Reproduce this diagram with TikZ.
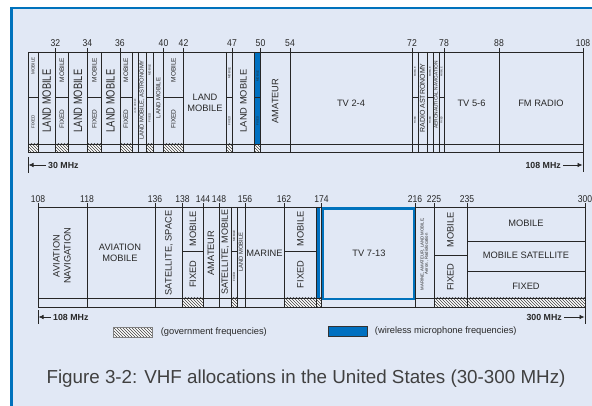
\documentclass[tikz,border=0pt]{standalone}
\usepackage{fontspec}
\setmainfont{Liberation Sans}
\usepackage{graphicx}
\usetikzlibrary{arrows.meta,patterns,positioning}
\definecolor{panelbg}{RGB}{225,232,245}
\definecolor{frameblue}{RGB}{0,114,188}
\definecolor{micblue}{RGB}{0,112,192}
\definecolor{labgray}{RGB}{40,40,40}
\definecolor{capgray}{RGB}{64,64,64}
\newcommand{\tall}[1]{\scalebox{1}[1.3]{#1}}
\newcommand{\digits}[1]{\scalebox{1}[1.15]{#1}}
\tikzset{
  band/.style={draw=black!85, line width=0.65pt},
  gov/.style={preaction={fill=white}, pattern=north west lines, pattern color=black!75},
  govkey/.style={gov, draw=black!50, line width=0.3pt, minimum width=39pt, minimum height=10pt, inner sep=0pt},
  mickey/.style={fill=micblue, draw=black!80, line width=0.5pt, minimum width=39pt, minimum height=10pt, inner sep=0pt},
  lab/.style={font=\fontsize{9.3}{11}\selectfont, text=labgray, align=center, inner sep=0pt},
  vlab/.style={lab, rotate=90},
  fs/.style={font=\fontsize{#1}{#1}\selectfont},
  num/.style={font=\fontsize{8.6}{10}\selectfont, text=labgray, inner sep=0pt, anchor=south},
  mhz/.style={font=\bfseries\fontsize{8.8}{9}\selectfont, text=labgray, inner xsep=2pt, inner ysep=0pt},
  ar/.style={-{Latex[length=5pt,width=4.5pt]}, line width=0.7pt, draw=labgray},
}

\begin{document}
\begin{tikzpicture}[x=1pt, y=-1pt]
\useasboundingbox (0,0) rectangle (592,406);

% ---------- panel ----------
\fill[white] (0,0) rectangle (592,406);
\fill[panelbg] (10,7) rectangle (592,406);
\draw[frameblue, line width=2pt] (10,7.8) -- (592,7.8);
\draw[frameblue, line width=3pt] (11.3,7) -- (11.3,406);

% ================= 30 - 108 MHz =================
\foreach \a/\b in {28/38, 55.5/68, 87.5/101, 120/132, 146/153, 163.5/183.5, 226.5/232, 254.5/260.5}
  \fill[gov] (\a,144) rectangle (\b,152);
\fill[micblue] (254.5,52) rectangle (260.5,144);

\draw[band] (28,52) -- (583,52) (28,144) -- (583,144) (28,152) -- (583,152);
\foreach \x in {28,38,68,101,132,138,146,153,226.5,254.5,418,427,433,439}
  \draw[band] (\x,52) -- (\x,152);
\foreach \x/\f in {55.5/32, 87.5/34, 120/36, 163.5/40, 183.5/42, 232/47, 260.5/50, 290/54, 412/72, 444/78, 499/88, 583/108}{
  \draw[band] (\x,48) -- (\x,152);
  \node[num] (t\f) at (\x,47) {\digits{\f}};
}
\foreach \a/\b in {28/38, 55.5/68, 87.5/101, 120/132, 146/153, 163.5/183.5, 226.5/232, 254.5/260.5, 412/418, 427/433, 439/444}
  \draw[band] (\a,97) -- (\b,97);

\node[vlab, fs=4.5] (m1) at (33,66) {MOBILE};
\node[vlab, fs=4.5] (x1) at (33,122) {FIXED};
\node[vlab] (lm1) at (46.7,101) {\tall{LAND MOBILE}};
\node[vlab, fs=6.5] (m2) at (62,70) {MOBILE};
\node[vlab, fs=6.5] (x2) at (62,119) {FIXED};
\node[vlab] (lm2) at (78,101) {\tall{LAND MOBILE}};
\node[vlab, fs=6.5] (m3) at (94.3,70) {MOBILE};
\node[vlab, fs=6.5] (x3) at (94.3,119) {FIXED};
\node[vlab] (lm3) at (110.5,101) {\tall{LAND MOBILE}};
\node[vlab, fs=6.5] (m4) at (126,70) {MOBILE};
\node[vlab, fs=6.5] (x4) at (126,119) {FIXED};
\node[vlab, fs=2.2] (lm4) at (135,106) {LAND MOBILE};
\node[vlab, fs=5.8] (lma) at (142,100) {LAND MOBILE, ASTRONOMY};
\node[vlab, fs=3] (m5) at (149.5,70) {MOBILE};
\node[vlab, fs=3] (x5) at (149.5,118) {FIXED};
\node[vlab, fs=6] (lm5) at (158.3,98) {LAND MOBILE};
\node[vlab, fs=6.5] (m6) at (173.5,70) {MOBILE};
\node[vlab, fs=6.5] (x6) at (173.5,119) {FIXED};
\node[lab] (lm6) at (205,102.5) {LAND\\MOBILE};
\node[vlab, fs=3] (m7) at (229.3,73) {MOBILE};
\node[vlab, fs=3] (x7) at (229.3,121) {FIXED};
\node[vlab] (lm7) at (243.3,101) {LAND MOBILE};
\node[vlab, fs=3] (m8) at (257.5,76) {MOBILE};
\node[vlab, fs=3] (x8) at (257.5,121) {FIXED};
\node[vlab] (am1) at (275.3,101) {AMATEUR};
\node[lab] (tv24) at (351,103) {TV 2-4};
\node[vlab, fs=2.5] (m9) at (415,72) {MOBILE};
\node[vlab, fs=2.5] (x9) at (415,120) {FIXED};
\node[vlab, fs=7] (ra) at (422.5,98) {RADIO ASTRONOMY};
\node[vlab, fs=2.5] (m10) at (430,72) {MOBILE};
\node[vlab, fs=2.5] (x10) at (430,120) {FIXED};
\node[vlab, fs=4.8] (an) at (436,95) {AERONAUTICAL NAVIGATION};
\node[vlab, fs=2.5] (m11) at (441.5,72) {MOBILE};
\node[vlab, fs=2.5] (x11) at (441.5,120) {FIXED};
\node[lab] (tv56) at (471.5,103) {TV 5-6};
\node[lab] (fm) at (541,103) {FM RADIO};

% range arrows
\draw[band] (28,157) -- (28,173) (583,152) -- (583,172);
\coordinate (lo1) at (28.5,165);
\coordinate (hi1) at (582.5,165);
\node[mhz, anchor=west] (l30) at (46,165) {30 MHz};
\node[mhz, anchor=east] (h108) at (563,165) {108 MHz};
\draw[ar] (l30) -- (lo1);
\draw[ar] (h108) -- (hi1);

% ================= 108 - 300 MHz =================
\foreach \a/\b in {182.5/203, 231/237, 284/321.5, 434/585}
  \fill[gov] (\a,298) rectangle (\b,307.5);
\fill[micblue] (316.5,207) rectangle (320.3,298);

\draw[band] (38,207) -- (585,207) (38,298) -- (585,298) (38,307.5) -- (585,307.5);
\foreach \x in {231,237,316.5}
  \draw[band] (\x,207) -- (\x,307.5);
\foreach \x/\f in {38/108, 87/118, 155/136, 182.5/138, 203/144, 219/148, 245/156, 284/162, 321.5/174, 415/216, 434/225, 467/235, 585/300}{
  \draw[band] (\x,203.5) -- (\x,307.5);
  \node[num] (b\f) at (\x,202.5) {\digits{\f}};
}
\foreach \a/\b/\y in {182.5/203/251, 231/237/251, 284/316.5/251, 434/467/255, 467/585/241, 467/585/271}
  \draw[band] (\a,\y) -- (\b,\y);
\draw[frameblue, line width=2.5pt] (322.8,208.3) rectangle (413.8,299.2);

\node[vlab] (avn) at (62,256) {AVIATION\\NAVIGATION};
\node[lab] (avm) at (120,253) {AVIATION\\MOBILE};
\node[vlab] (ssp) at (169,253) {SATELLITE, SPACE};
\node[vlab] (m21) at (193,229) {MOBILE};
\node[vlab] (x21) at (193,274) {FIXED};
\node[vlab] (am2) at (211,253) {AMATEUR};
\node[vlab, fs=9] (smo) at (225.3,252) {SATELLITE, MOBILE};
\node[vlab, fs=3] (m22) at (234,236) {MOBILE};
\node[vlab, fs=3] (x22) at (234,277) {FIXED};
\node[vlab, fs=5.8] (lm21) at (241,252) {LAND MOBILE};
\node[lab] (mar) at (264.5,253) {MARINE};
\node[vlab] (m23) at (300.3,229) {MOBILE};
\node[vlab] (x23) at (300.3,274.5) {FIXED};
\node[lab] (tv713) at (369,253) {TV 7-13};
\node[vlab, fs=4.3] (mix) at (424.5,254) {MARINE, AMATEUR, LAND MOBILE,\\Aeron., Radiolocation};
\node[vlab] (m24) at (450.5,230) {MOBILE};
\node[vlab] (x24) at (450.5,277) {FIXED};
\node[lab] (m25) at (526,223) {MOBILE};
\node[lab] (ms) at (526,255.5) {MOBILE SATELLITE};
\node[lab] (x25) at (526,286) {FIXED};

% range arrows
\draw[band] (38,310) -- (38,324) (585,307.5) -- (585,324);
\coordinate (lo2) at (38.5,317);
\coordinate (hi2) at (584.5,317);
\node[mhz, anchor=west] (l108) at (51,317) {108 MHz};
\node[mhz, anchor=east] (h300) at (564,317) {300 MHz};
\draw[ar] (l108) -- (lo2);
\draw[ar] (h300) -- (hi2);

% legend
\node[govkey] (gk) at (132.5,332) {};
\node[lab, right=8.5pt of gk] (gt) {(government frequencies)};
\node[mickey] (mk) at (347.5,331) {};
\node[lab, right=7.5pt of mk] (mt) {(wireless microphone frequencies)};

% caption
\node[font=\fontsize{18.8}{22}\selectfont, text=capgray, inner sep=0pt] (cap) at (306,379)
  {Figure 3-2: VHF allocations in the United States (30-300 MHz)};
\end{tikzpicture}
\end{document}
